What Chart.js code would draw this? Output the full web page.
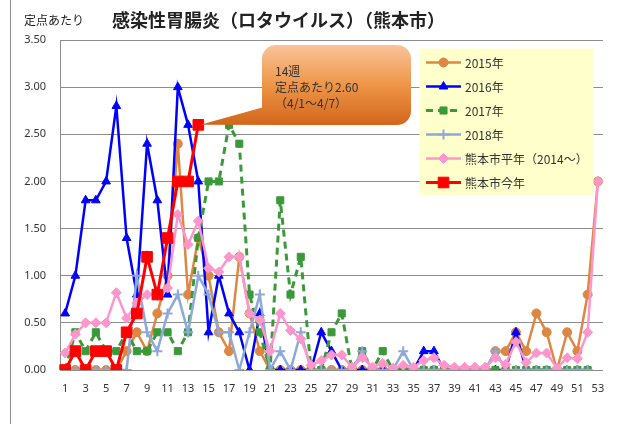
<!DOCTYPE html>
<html lang="ja">
<head>
<meta charset="UTF-8" />
<title>感染性胃腸炎（ロタウイルス）（熊本市）</title>
<script src="https://cdn.jsdelivr.net/npm/chart.js@4"></script>
<style>
	html, body { margin: 0; padding: 0; background: #fff; }
	#wrap { width: 620px; height: 424px; }
</style>
</head>
<body>
<div id="wrap"><canvas id="chart" width="620" height="424"></canvas></div>
<script>
const weeks = ["1","2","3","4","5","6","7","8","9","10","11","12","13","14","15","16","17","18","19","20",
	"21","22","23","24","25","26","27","28","29","30","31","32","33","34","35","36","37","38","39","40",
	"41","42","43","44","45","46","47","48","49","50","51","52","53"];

const y2015 = [0,0,0,0,0,0,0.2,0.4,0.2,0.6,1.0,2.4,0.8,1.4,1.0,0.4,0.2,1.2,0.6,0.2,
	0,0,0,0,0,0,0,0,0,0,0,0,0,0,0,0,0,0,0,0,
	0,0,0.2,0.2,0.4,0.2,0.6,0.4,0,0.4,0.2,0.8,2.0];
const y2016 = [0.6,1.0,1.8,1.8,2.0,2.8,1.4,0.8,2.4,1.8,0.8,3.0,2.6,2.0,0.4,1.0,0.6,0.4,0,0.6,
	0,0,0,0,0,0.4,0.2,0,0,0,0,0,0,0,0,0.2,0.2,0,0,0,
	0,0,0,0,0.4,0,0,0,0,0,0,0,null];
const y2017 = [0,0.4,0.2,0.4,0.2,0.2,0.4,0.2,0.2,0.4,0.4,0.2,0.4,1.4,2.0,2.0,2.6,2.4,0.8,0.4,
	0,1.8,0.8,1.2,0,0,0.4,0.6,0,0.2,0,0.2,0,0,0,0,0,0,0,0,
	0,0,0,0,0,0,0,0,0,0,0,0,null];
const y2018 = [0,0,0,0,0,0,0,1.0,0.4,0.2,0.6,0.8,0.4,1.0,0.8,0.4,0.4,0,0.4,0.8,
	0,0.2,0,0.4,0,0,0,0,0,0.2,0,0,0,0.2,0,0,0,0,0,0,
	0,0,0.2,0,0,0,0,0,0,0,0,0,null];
const avgYear = [0.18,0.38,0.5,0.5,0.5,0.82,0.55,0.71,0.8,0.8,0.87,1.65,1.33,1.58,1.08,1.04,1.2,1.2,0.6,0.53,
	0.2,0.6,0.42,0.33,0.05,0.1,0.16,0.16,0.03,0.13,0.03,0.07,0.02,0.05,0.03,0.1,0.13,0.05,0.03,0.03,
	0.03,0.03,0.13,0.06,0.3,0.08,0.18,0.18,0.02,0.13,0.12,0.4,2.0];
const thisYear = [0,0.2,0,0.2,0.2,0,0.4,0.6,1.2,0.8,1.4,2.0,2.0,2.6];

const seriesNames = ["2015年","2016年","2017年","2018年","熊本市平年（2014～）","熊本市今年"];
const calloutLines = ["14週","定点あたり2.60","（4/1～4/7）"];

const jp = '"Noto Sans CJK JP", "Noto Sans", sans-serif';

function drawMarker(ctx, style, x, y, r, color, lw) {
	ctx.save();
	ctx.fillStyle = color;
	ctx.strokeStyle = color;
	ctx.lineWidth = lw || 1;
	ctx.setLineDash([]);
	ctx.beginPath();
	if (style === "circle") {
		ctx.arc(x, y, r, 0, Math.PI * 2);
	} else if (style === "triangle") {
		ctx.moveTo(x, y - r);
		ctx.lineTo(x + r * 0.866, y + r * 0.5);
		ctx.lineTo(x - r * 0.866, y + r * 0.5);
		ctx.closePath();
	} else if (style === "rect") {
		const s = r * Math.SQRT1_2;
		ctx.rect(x - s, y - s, 2 * s, 2 * s);
	} else if (style === "rectRot") {
		ctx.moveTo(x, y - r);
		ctx.lineTo(x + r, y);
		ctx.lineTo(x, y + r);
		ctx.lineTo(x - r, y);
		ctx.closePath();
	} else if (style === "cross") {
		ctx.moveTo(x, y - r); ctx.lineTo(x, y + r);
		ctx.moveTo(x - r, y); ctx.lineTo(x + r, y);
		ctx.stroke();
		ctx.restore();
		return;
	}
	ctx.fill();
	ctx.stroke();
	ctx.restore();
}

const decorations = {
	id: "decorations",
	afterDatasetsDraw(chart) {
		const ctx = chart.ctx;
		const xs = chart.scales.x, ys = chart.scales.y;

		// left frame line
		ctx.save();
		ctx.strokeStyle = "#8c8c8c";
		ctx.lineWidth = 1;
		ctx.beginPath();
		ctx.moveTo(10.5, 0);
		ctx.lineTo(10.5, 424);
		ctx.stroke();

		// titles
		ctx.fillStyle = "#222";
		ctx.textBaseline = "middle";
		ctx.textAlign = "left";
		ctx.font = "12px " + jp;
		ctx.fillText("定点あたり", 24, 20);
		ctx.font = "bold 18px " + jp;
		ctx.fillText("感染性胃腸炎（ロタウイルス）（熊本市）", 112, 20);

		// callout pointing at this year's latest week
		const bx = 262, by = 45, bw = 149, bh = 80, br = 14;
		const tipX = xs.getPixelForValue(thisYear.length - 1);
		const tipY = ys.getPixelForValue(thisYear[thisYear.length - 1]);
		const grad = ctx.createLinearGradient(0, by, 0, by + bh);
		grad.addColorStop(0, "#F9C49A");
		grad.addColorStop(0.5, "#EE9547");
		grad.addColorStop(1, "#D2661B");
		ctx.fillStyle = grad;
		ctx.beginPath();
		ctx.moveTo(tipX + 2, tipY);
		ctx.lineTo(bx + 2, by + 62);
		ctx.lineTo(bx + 24, by + bh);
		ctx.closePath();
		ctx.fill();
		ctx.beginPath();
		ctx.roundRect(bx, by, bw, bh, br);
		ctx.fill();
		ctx.fillStyle = "#333";
		ctx.font = "12px " + jp;
		ctx.textAlign = "left";
		calloutLines.forEach((t, i) => ctx.fillText(t, 275, 71 + i * 16));

		// legend
		const lx = 419.5, ly = 48.5, lw = 174, lh = 147;
		ctx.fillStyle = "#FFFFCC";
		ctx.fillRect(lx, ly, lw, lh);
		chart.data.datasets.forEach((ds, i) => {
			const y = 62.5 + i * 24;
			ctx.strokeStyle = ds.borderColor;
			ctx.lineWidth = ds.borderWidth;
			ctx.setLineDash(ds.borderDash || []);
			ctx.beginPath();
			ctx.moveTo(426, y);
			ctx.lineTo(461, y);
			ctx.stroke();
			ctx.setLineDash([]);
			drawMarker(ctx, ds.pointStyle, 443.5, y, ds.pointRadius, ds.borderColor, ds.pointBorderWidth);
			ctx.fillStyle = "#333";
			ctx.font = "12px " + jp;
			ctx.fillText(ds.label, 465, y + 1);
		});
		ctx.restore();
	}
};

const ctx = document.getElementById("chart");
new Chart(ctx, {
	type: "line",
	data: {
		labels: weeks,
		datasets: [
			{ label: seriesNames[0], data: y2015, borderColor: "#DE8742", backgroundColor: "#DE8742",
				borderWidth: 2.5, pointStyle: "circle", pointRadius: 4.5, pointBorderWidth: 1, order: 5 },
			{ label: seriesNames[1], data: y2016, borderColor: "#0000FF", backgroundColor: "#0000FF",
				borderWidth: 2.5, pointStyle: "triangle", pointRadius: 5, pointBorderWidth: 1, order: 4 },
			{ label: seriesNames[2], data: y2017, borderColor: "#3A9A3A", backgroundColor: "#3A9A3A",
				borderWidth: 3, borderDash: [7, 5], pointStyle: "rect", pointRadius: 5, pointBorderWidth: 1, order: 3 },
			{ label: seriesNames[3], data: y2018, borderColor: "#8EA9D9", backgroundColor: "#8EA9D9",
				borderWidth: 2.5, pointStyle: "cross", pointRadius: 5, pointBorderWidth: 2, order: 2 },
			{ label: seriesNames[4], data: avgYear, borderColor: "#FF96CB", backgroundColor: "#FF96CB",
				borderWidth: 2.5, pointStyle: "rectRot", pointRadius: 5, pointBorderWidth: 1, order: 1 },
			{ label: seriesNames[5], data: thisYear, borderColor: "#FF0000", backgroundColor: "#FF0000",
				borderWidth: 3, pointStyle: "rect", pointRadius: 7.5, pointBorderWidth: 1, order: 0 }
		]
	},
	options: {
		responsive: false,
		animation: false,
		devicePixelRatio: 1,
		layout: { padding: { left: 0, top: 40, right: 17, bottom: 24 } },
		plugins: {
			legend: { display: false },
			tooltip: { enabled: false },
			title: { display: false }
		},
		elements: { line: { tension: 0 } },
		scales: {
			x: {
				offset: true,
				grid: { display: false },
				border: { display: false },
				ticks: {
					autoSkip: false,
					maxRotation: 0,
					padding: 4,
					color: "#333",
					font: { size: 11, family: '"Noto Sans", sans-serif' },
					callback: (v, i) => (i % 2 === 0 ? weeks[i] : "")
				},
				afterFit: (s) => { s.height = 30; }
			},
			y: {
				min: 0,
				max: 3.5,
				grid: { color: "#8c8c8c", lineWidth: 1, drawTicks: false },
				border: { display: true, color: "#8c8c8c" },
				ticks: {
					stepSize: 0.5,
					padding: 14,
					color: "#333",
					font: { size: 11, family: '"Noto Sans", sans-serif' },
					callback: (v) => v.toFixed(2)
				},
				afterFit: (s) => { s.width = 60; }
			}
		}
	},
	plugins: [decorations]
});
</script>
</body>
</html>
